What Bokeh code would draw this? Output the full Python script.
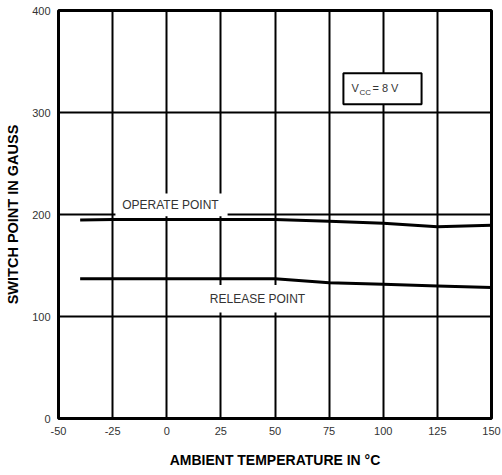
from bokeh.plotting import figure
from bokeh.models import Label, BoxAnnotation, FixedTicker
from bokeh.embed import file_html
from bokeh.resources import INLINE

# ---- data ----
temps = [-40, -25, 0, 25, 50, 75, 100, 125, 150]
operate = [194.5, 195, 195, 195, 195, 193.5, 191.5, 188, 189.5]
release = [137, 137, 137, 137, 137, 133, 131.5, 130, 128.5]

x_ticks = [-50, -25, 0, 25, 50, 75, 100, 125, 150]
y_ticks = [0, 100, 200, 300, 400]

FONT = "Liberation Sans"

p = figure(width=502, height=475, x_range=(-50, 150), y_range=(0, 400),
           output_backend="svg", toolbar_location=None,
           min_border_left=58, min_border_right=11, min_border_top=10, min_border_bottom=57)
p.background_fill_color = "white"
p.border_fill_color = "white"
p.outline_line_color = "black"
p.outline_line_width = 3

p.xaxis.ticker = FixedTicker(ticks=x_ticks)
p.yaxis.ticker = FixedTicker(ticks=y_ticks)
p.xgrid.ticker = FixedTicker(ticks=x_ticks)
p.ygrid.ticker = FixedTicker(ticks=y_ticks)
p.xaxis.major_label_overrides = {t: str(t) for t in x_ticks}
for g in (p.xgrid, p.ygrid):
    g.grid_line_color = "black"
    g.grid_line_width = 2
    g.grid_line_alpha = 1.0

for ax in (p.xaxis, p.yaxis):
    ax.axis_line_color = None
    ax.major_tick_line_color = None
    ax.minor_tick_line_color = None
    ax.major_tick_out = 0
    ax.major_tick_in = 0
    ax.minor_tick_out = 0
    ax.major_label_text_font = FONT
    ax.major_label_text_font_size = "11px"
    ax.major_label_text_color = "#333333"
    ax.major_label_standoff = 8
    ax.axis_label_text_font = FONT
    ax.axis_label_text_font_style = "bold"
    ax.axis_label_text_font_size = "14px"
    ax.axis_label_text_color = "black"

p.xaxis.axis_label = "AMBIENT TEMPERATURE IN °C"
p.yaxis.axis_label = "SWITCH POINT IN GAUSS"
p.yaxis.axis_label_text_font_size = "14.5px"
p.xaxis.axis_label_standoff = 14
p.yaxis.axis_label_standoff = 8

p.line(temps, operate, line_color="black", line_width=3)
p.line(temps, release, line_color="black", line_width=3)

# label backgrounds (white patches that interrupt the grid)
p.add_layout(BoxAnnotation(left=-23.7, right=28.1, bottom=198.3, top=220.6,
                           fill_color="white", fill_alpha=1, line_color=None))
p.add_layout(BoxAnnotation(left=17.9, right=65.5, bottom=104, top=130.8,
                           fill_color="white", fill_alpha=1, line_color=None))
p.add_layout(BoxAnnotation(left=81.6, right=117.7, bottom=308, top=338.5,
                           fill_color="white", fill_alpha=1, line_color="black",
                           line_alpha=1, line_width=2))

def lab(x, y, text, size="12px", align="center"):
    p.add_layout(Label(x=x, y=y, text=text, text_align=align, text_baseline="middle",
                       text_font=FONT, text_font_size=size, text_color="#333333"))

lab(1.7, 209, "OPERATE POINT")
lab(41.9, 117, "RELEASE POINT")
lab(85.3, 324.5, "V", size="11px", align="left")
lab(89.0, 319.6, "CC", size="8px", align="left")
lab(95.0, 324.5, "= 8 V", size="11px", align="left")

open("out.html", "w").write(file_html(p, INLINE))
